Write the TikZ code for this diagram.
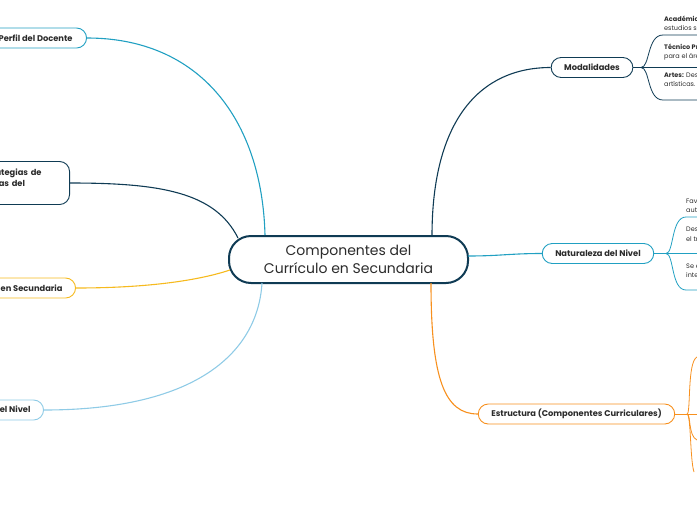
\documentclass[tikz,border=0pt]{standalone}
\usepackage{fontspec}
\setmainfont{Poppins}
\definecolor{cnavy}{HTML}{0F3B54}
\definecolor{cteal}{HTML}{21A0C2}
\definecolor{cyel}{HTML}{F6BA1E}
\definecolor{clblue}{HTML}{8FCBE6}
\definecolor{corange}{HTML}{F7901E}
\definecolor{ctext}{HTML}{2B2B2B}
\begin{document}
\begin{tikzpicture}[x=1pt,y=-1pt,
  topic/.style={draw, fill=white, rounded corners=10pt, line width=0.9pt, minimum height=20pt,
    inner xsep=13pt, inner ysep=2pt, text=ctext, font=\fontsize{8.3}{10}\selectfont\bfseries},
  central/.style={draw=cnavy, fill=white, rounded corners=22pt, line width=2pt, minimum height=47pt,
    minimum width=239pt, align=center, text=ctext, font=\fontsize{14}{18}\selectfont},
  itm/.style={inner sep=0pt, text=ctext, font=\fontsize{6.5}{9}\selectfont},
  conn/.style={line width=1.1pt}
]
\useasboundingbox (0,0) rectangle (697,520);
\clip (0,0) rectangle (697,520);

% central
\node[central] (c) at (348.5,259.5) {Componentes del\\Currículo en Secundaria};

% left topics
\node[topic, draw=cteal, anchor=east, inner xsep=14pt] (perfil) at (87,38) {Perfil del Docente};
\node[topic, draw=cnavy, anchor=east, align=left, text width=77pt, minimum height=43pt,
  font=\fontsize{8.3}{11}\selectfont\bfseries] (estr) at (70,183) {Estrategias de\\Tareas del\\Aula};
\node[topic, draw=cyel, anchor=east] (eval) at (76,288) {Evaluación en Secundaria};
\node[topic, draw=clblue, anchor=east] (obj) at (44,410) {Objetivos del Nivel};

% right topics
\node[topic, draw=cnavy] (mod) at (592,67.5) {Modalidades};
\node[topic, draw=cteal] (nat) at (598,253.5) {Naturaleza del Nivel};
\node[topic, draw=corange] (est) at (576.5,414) {Estructura (Componentes Curriculares)};

% connectors
\draw[conn, cteal] (perfil.east) .. controls (200,38) and (262,120) .. (c.north west -| 265,0);
\draw[conn, cnavy] (estr.east) .. controls (160,183) and (215,192) .. (238,238);
\draw[conn, cyel] (eval.east) .. controls (150,288) and (200,280) .. (230,270);
\draw[conn, clblue] (obj.east) .. controls (200,410) and (258,350) .. (262,283);
\draw[conn, cnavy] (432,236) .. controls (432,120) and (480,67.5) .. (mod.west);
\draw[conn, cteal] (468,256) .. controls (500,256) and (510,253.5) .. (nat.west);
\draw[conn, corange] (431,283) .. controls (431,380) and (445,414) .. (est.west);

% Modalidades sub
\coordinate (mj) at (641,67.5);
\draw[cnavy, line width=0.8pt] (mod.east) -- (697,67.5);
\draw[cnavy, line width=0.8pt] (mj) .. controls (650,67.5) and (647,35) .. (663,35) -- (697,35);
\draw[cnavy, line width=0.8pt] (mj) .. controls (650,67.5) and (647,100) .. (663,100) -- (697,100);
\node[itm, anchor=base west] (m1a) at (664,21) {\textbf{Académico:} Orientado a los};
\node[itm, anchor=base west] (m1b) at (664,30) {estudios superiores.};
\node[itm, anchor=base west] (m2a) at (664,49.5) {\textbf{Técnico Profesional:} Forma};
\node[itm, anchor=base west] (m2b) at (664,58.5) {para el área laboral.};
\node[itm, anchor=base west] (m3a) at (664,77.5) {\textbf{Artes:} Desarrolla habilidades};
\node[itm, anchor=base west] (m3b) at (664,86.5) {artísticas.};

% Naturaleza sub
\coordinate (nj) at (666,253.5);
\draw[cteal, line width=0.8pt] (nat.east) -- (697,253.5);
\draw[cteal, line width=0.8pt] (nj) .. controls (674,253.5) and (671,217) .. (686,217) -- (697,217);
\draw[cteal, line width=0.8pt] (nj) .. controls (674,253.5) and (671,290) .. (686,290) -- (697,290);
\node[itm, anchor=base west] (n1a) at (686,203) {Favorece la};
\node[itm, anchor=base west] (n1b) at (686,212) {autonomía.};
\node[itm, anchor=base west] (n2a) at (686,231.5) {Desarrolla};
\node[itm, anchor=base west] (n2b) at (686,241) {el trabajo.};
\node[itm, anchor=base west] (n3a) at (686,268.5) {Se enfoca};
\node[itm, anchor=base west] (n3b) at (686,277.5) {integralmente.};

% Estructura sub
\coordinate (ej) at (687,414);
\draw[corange, line width=0.8pt] (est.east) -- (697,414);
\draw[corange, line width=0.8pt] (ej) .. controls (691,414) and (687,362) .. (697,357);
\draw[corange, line width=0.8pt] (ej) .. controls (691,414) and (688,436) .. (697,440);
\draw[corange, line width=0.8pt] (ej) .. controls (691,414) and (690,460) .. (694,472);
\end{tikzpicture}
\end{document}
